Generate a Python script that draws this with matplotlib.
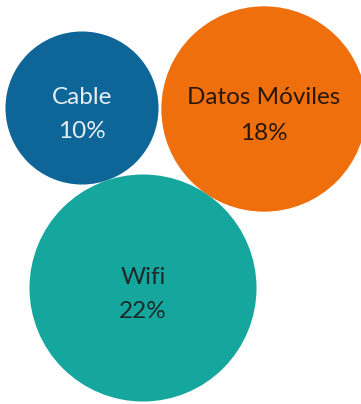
import numpy as np
import matplotlib
matplotlib.use("Agg")
import matplotlib.pyplot as plt
from matplotlib.patches import Circle

# Data
categories = ["Cable", "Datos Móviles", "Wifi"]
values = [10, 18, 22]  # percent
labels = ["10%", "18%", "22%"]

# Layout (pixel space of the figure)
centers = [(82, 108), (264, 109), (143, 288)]
colors = ["#0E6598", "#EE6F0C", "#15A69E"]
text_colors = ["#E6EEF5", "#2A170C", "#1C2A2A"]
scale = 24.2  # radius = scale * sqrt(value)

W, H = 361, 404
fig = plt.figure(figsize=(W / 100, H / 100), dpi=100)
ax = fig.add_axes([0, 0, 1, 1])
ax.set_xlim(0, W)
ax.set_ylim(H, 0)
ax.set_aspect("equal")
ax.axis("off")

for cat, v, lab, (cx, cy), col, tc in zip(categories, values, labels, centers, colors, text_colors):
    r = scale * np.sqrt(v)
    ax.add_patch(Circle((cx, cy), r, facecolor=col, edgecolor="none"))
    ax.text(cx, cy - 11, cat, ha="center", va="center", fontsize=17.5,
            family=["Lato", "DejaVu Sans"], color=tc)
    ax.text(cx, cy + 24, lab, ha="center", va="center", fontsize=17.5,
            family=["Lato", "DejaVu Sans"], color=tc)

fig.savefig("out.png", dpi=100, facecolor="white")
